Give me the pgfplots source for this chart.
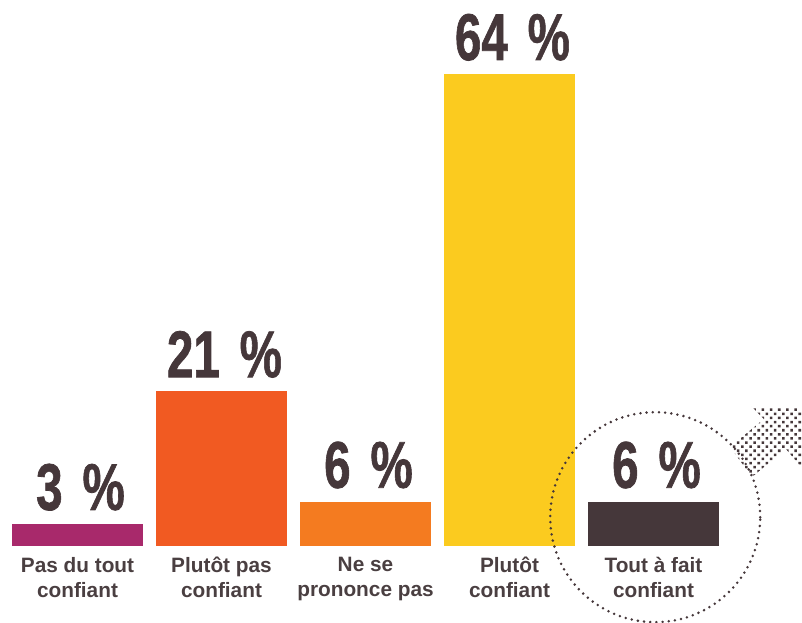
\documentclass[border=0pt]{standalone}
\usepackage{fontspec}
\setmainfont{Liberation Sans}
\newfontface\numfont[FakeBold=1.2]{Liberation Sans Bold}
\usepackage{pgfplots}
\pgfplotsset{compat=1.18}
\usetikzlibrary{patterns.meta}
\definecolor{txt}{HTML}{45373A}
\definecolor{lab}{HTML}{4A3F41}
\definecolor{c1}{HTML}{A8296B}
\definecolor{c2}{HTML}{F15A22}
\definecolor{c3}{HTML}{F47B20}
\definecolor{c4}{HTML}{FBCB1F}
\definecolor{c5}{HTML}{45373A}
\begin{document}
\begin{tikzpicture}
\begin{axis}[
  scale only axis, width=401pt, height=311.5pt,
  xmin=-0.5382, xmax=5.0313, ymin=-10.441, ymax=74.034,
  axis line style={draw=none}, tick style={draw=none},
  ytick=\empty,
  xtick={0,1,2,3,4},
  xticklabels={{Pas du tout\\confiant},{Plutôt pas\\confiant},{Ne se\\prononce pas},{Plutôt\\confiant},{Tout à fait\\confiant}},
  xticklabel style={font=\fontsize{10.4pt}{12.5pt}\selectfont\bfseries, text=lab, align=center, anchor=north, inner sep=0pt, yshift=33pt},
  nodes near coords={\scalebox{0.72}[1]{\fontsize{33pt}{33pt}\numfont\pgfmathprintnumber[assume math mode=true]{\pgfplotspointmeta}\hspace{0.42em}\%}},
  every node near coord/.append style={anchor=base, yshift=7pt, xshift=1.5pt, text=txt, inner sep=0pt},
]
\path (rel axis cs:0,0) rectangle (rel axis cs:1,1);
\addplot[ybar, bar width=0.91, fill=c1, draw=none] coordinates {(0,3)};
\addplot[ybar, bar width=0.91, fill=c2, draw=none] coordinates {(1,21)};
\addplot[ybar, bar width=0.91, fill=c3, draw=none] coordinates {(2,6)};
\addplot[ybar, bar width=0.91, fill=c4, draw=none] coordinates {(3,64)};
\addplot[ybar, bar width=0.91, fill=c5, draw=none] coordinates {(4,6)};
\draw[txt, line width=1.4pt, dash pattern=on 0pt off 3.1pt, line cap=round] (axis cs:4.012,3.905) circle[radius=52.5pt];
\fill[pattern={Dots[distance=2.9pt, radius=0.9pt, angle=45]}, pattern color=txt]
  (axis cs:4.531,13.42) -- (axis cs:4.767,17.22) -- (axis cs:4.684,18.85) -- (axis cs:5.031,18.62)
  -- (axis cs:5.031,10.58) -- (axis cs:4.920,13.15) -- (axis cs:4.684,9.36) -- cycle;
\end{axis}
\end{tikzpicture}
\end{document}
